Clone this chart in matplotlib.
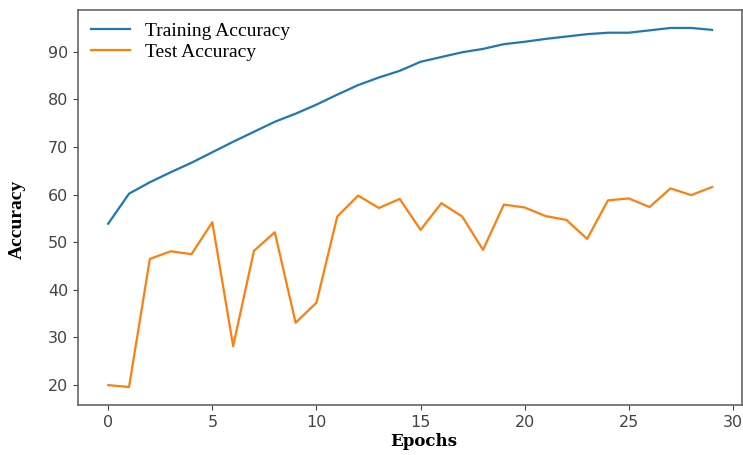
import numpy as np
import matplotlib
matplotlib.use("Agg")
import matplotlib.pyplot as plt

plt.rcParams['font.family'] = ['DejaVu Sans']

# values
epochs = list(range(30))
train_acc = [53.9, 60.2, 62.6, 64.7, 66.7, 68.9, 71.1, 73.2, 75.3, 77.0,
             78.9, 81.0, 83.0, 84.6, 86.0, 87.9, 88.9, 89.9, 90.6, 91.6,
             92.1, 92.7, 93.2, 93.7, 94.0, 94.0, 94.5, 95.0, 95.0, 94.6]
test_acc = [20.0, 19.6, 46.5, 48.1, 47.5, 54.2, 28.2, 48.2, 52.1, 33.1,
            37.3, 55.4, 59.8, 57.2, 59.1, 52.6, 58.2, 55.4, 48.4, 57.9,
            57.3, 55.5, 54.7, 50.7, 58.8, 59.2, 57.4, 61.3, 59.9, 61.6]

fig = plt.figure(figsize=(7.43, 4.55), dpi=100)
ax = fig.add_axes([0.105, 0.110, 0.894, 0.868])

ax.plot(epochs, train_acc, color='#1f77b4', linewidth=1.6, label='Training Accuracy')
ax.plot(epochs, test_acc, color='#ff7f0e', linewidth=1.6, label='Test Accuracy')

ax.set_xticks([0, 5, 10, 15, 20, 25, 30])
ax.set_yticks([20, 30, 40, 50, 60, 70, 80, 90])
ax.tick_params(labelsize=11.5, colors='#444444')
for s in ax.spines.values():
    s.set_color('#666666')
    s.set_linewidth(1.2)

ax.set_xlabel('Epochs', fontsize=12, fontweight='bold', family='DejaVu Serif')
ax.set_ylabel('Accuracy', fontsize=14, fontweight='bold', family='Liberation Serif')
ax.xaxis.set_label_coords(0.52, -0.07)
ax.yaxis.set_label_coords(-0.078, 0.47)

ax.legend(loc='upper left', frameon=False, prop={'family': 'Liberation Serif', 'size': 14},
          handlelength=2.0, borderaxespad=0.25, labelspacing=0.15, handletextpad=0.8)

plt.savefig('out.png', dpi=100)
